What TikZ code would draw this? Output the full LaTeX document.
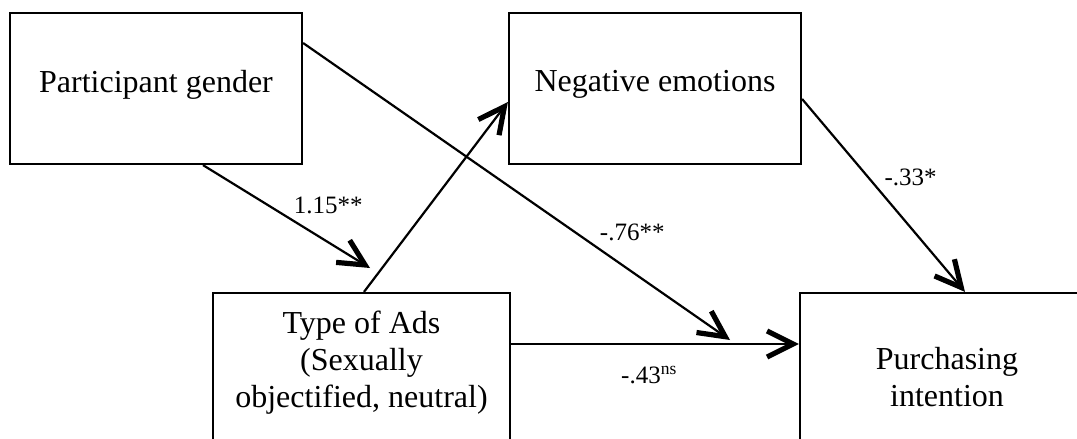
\documentclass[tikz,border=0pt]{standalone}
\usepackage{fontspec}
\setmainfont{Liberation Serif}
\usetikzlibrary{arrows.meta,positioning}

\tikzset{
  varbox/.style={draw, line width=1.1pt, inner sep=0pt},
  vartext/.style={font=\fontsize{16}{18.5}\selectfont, align=center, inner sep=0pt},
  coef/.style={font=\fontsize{12.5}{15}\selectfont, inner sep=0pt},
  effect/.style={line width=1.1pt, -{Straight Barb[length=13pt,width=13pt,line width'=2.6pt]}},
}

\begin{document}
\begin{tikzpicture}[x=0.5pt,y=-0.5pt]
    \useasboundingbox (0,0) rectangle (1077,439);
    \clip (0,0) rectangle (1077,439);
    % boxes, the two lower ones run past the bottom edge
    \node[varbox, minimum width=146pt, minimum height=75.5pt] (gender) at (156,88.5) {};
    \node[varbox, minimum width=146pt, minimum height=75.5pt] (emotion) at (655,88.5) {};
    \node[varbox, minimum width=148.5pt, minimum height=88.5pt] (ads) at (361.5,381.5) {};
    \node[varbox, minimum width=147pt, minimum height=88.5pt] (intent) at (947,381.5) {};
    \node[vartext] (gendertxt) at ([yshift=2pt]gender.center) {Participant gender};
    \node[vartext] (emotiontxt) at ([yshift=2pt]emotion.center) {Negative emotions};
    \node[vartext, below=9.2pt of ads.north] (adstxt) {Type of Ads\\(Sexually\\objectified, neutral)};
    \node[vartext, below=27.7pt of intent.north] (intenttxt) {Purchasing\\intention};
    % free ends
    \coordinate (tipa) at (370,268);
    \coordinate (tipb) at (730,340);
    \draw[effect] ([xshift=23.5pt]gender.south) -- (tipa) node[coef, pos=0.75, above=13.5pt] {1.15**};
    \draw[effect] ([xshift=1.25pt]ads.north) -- ([yshift=-6.75pt]emotion.west);
    \draw[effect] ([yshift=22.75pt]gender.east) -- (tipb) node[coef, pos=0.771, above=15pt] {-.76**};
    \draw[effect] ([yshift=-5.25pt]emotion.east) -- ([xshift=9pt]intent.north) node[coef, pos=0.407, right=7.5pt] {-.33*};
    \draw[effect] ([yshift=18.75pt]ads.east) -- ([yshift=18.75pt]intent.west) node[coef, pos=0.48, below=10.5pt] {-.43\textsuperscript{ns}};
\end{tikzpicture}
\end{document}
